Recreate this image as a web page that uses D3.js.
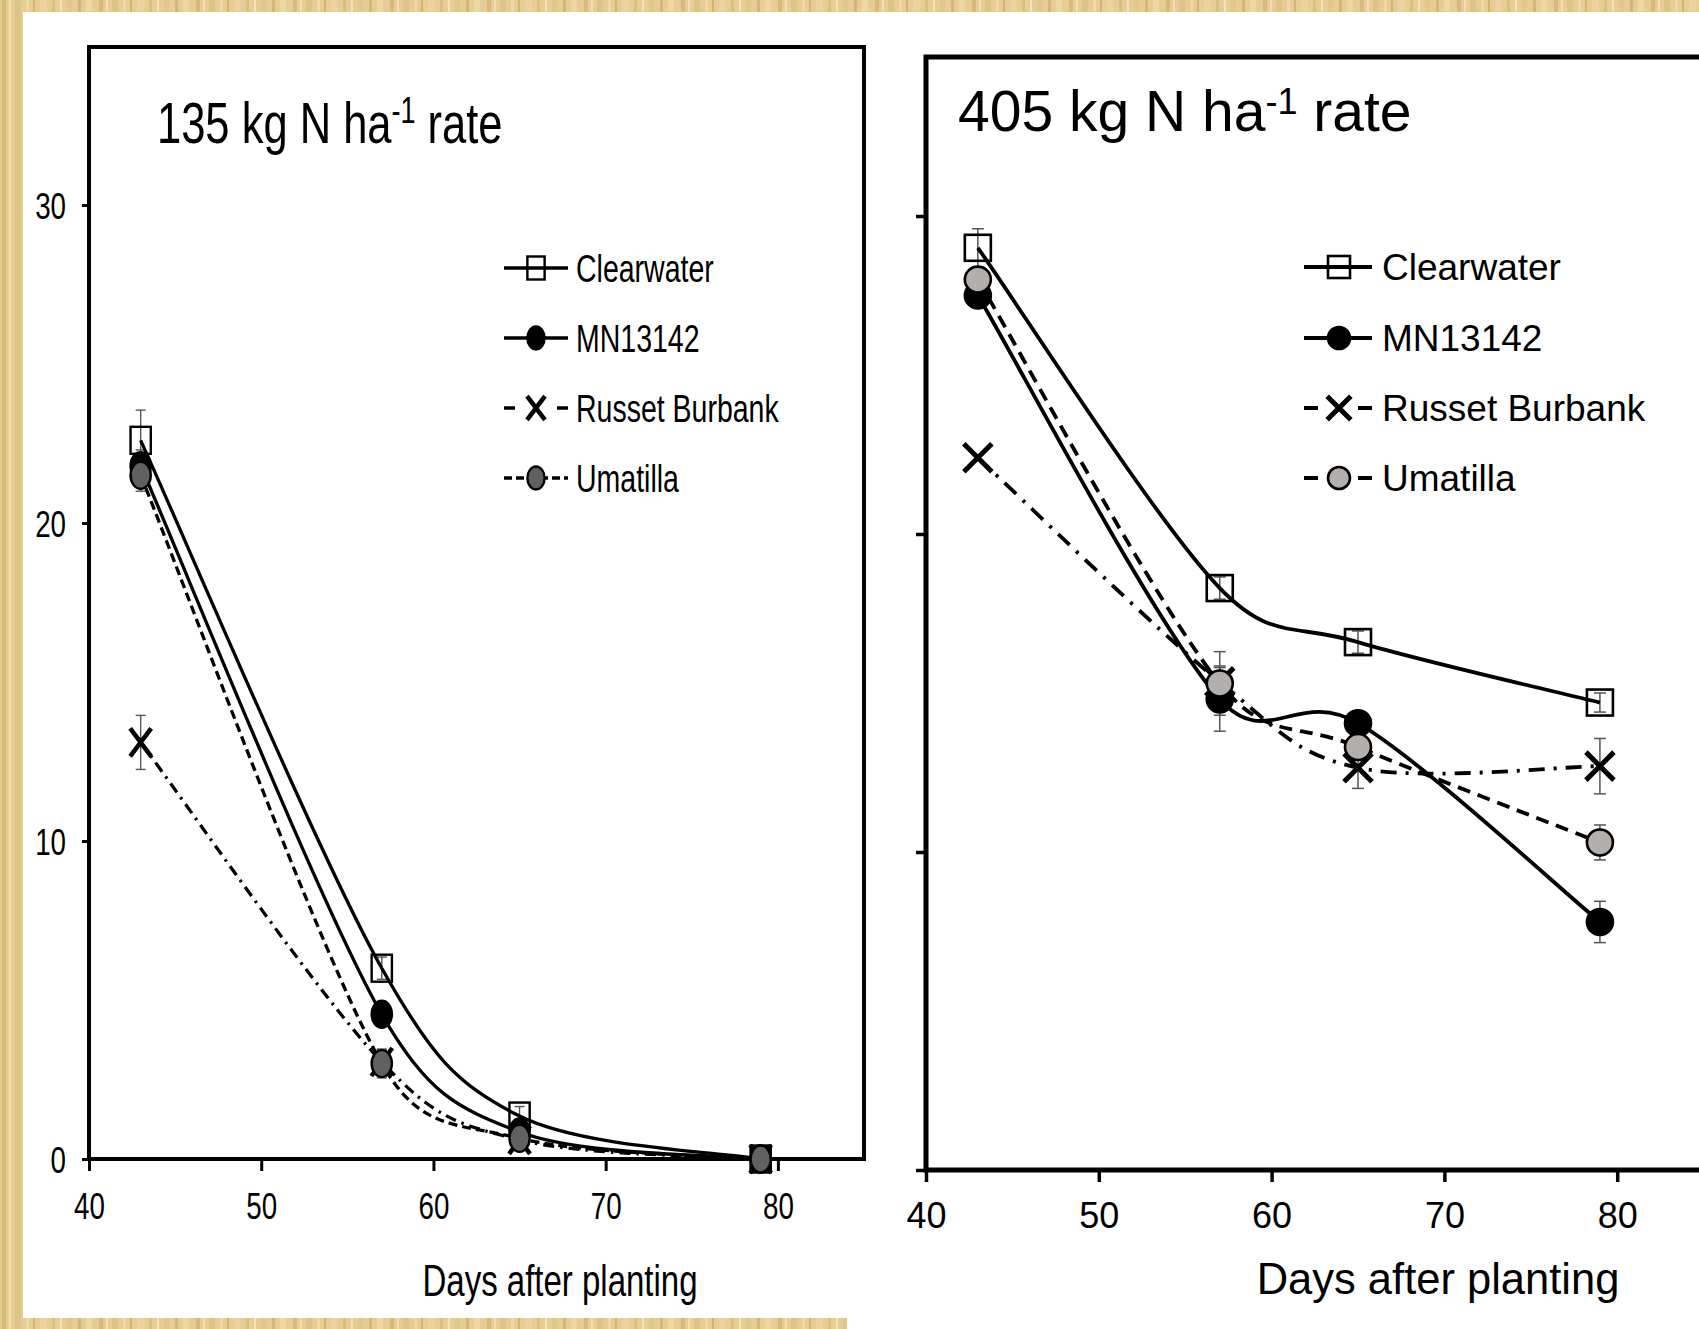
<!DOCTYPE html>
<html><head><meta charset="utf-8">
<script src="https://cdn.jsdelivr.net/npm/d3@7"></script>
<style>
body{margin:0;background:#fff;}
svg{display:block;}
text{font-family:"Liberation Sans",Arial,sans-serif;fill:#000;}
</style>
</head><body>
<svg id="c" width="1699" height="1329"></svg>
<script>
// ---------------- DATA ----------------
const days = [43, 57, 65, 79];
const seriesNames = ["Clearwater", "MN13142", "Russet Burbank", "Umatilla"];
const xTicks = [40, 50, 60, 70, 80];
const yTicks = [0, 10, 20, 30];
const xAxisTitle = "Days after planting";
const titleLow = ["135 kg N ha", "-1", " rate"];
const titleHigh = ["405 kg N ha", "-1", " rate"];

// 135 kg N/ha panel
const lowClearwater = [22.6, 6.0, 1.35, 0];
const lowMN13142 = [21.8, 4.55, 0.85, 0];
const lowRusset = [13.1, 3.05, 0.6, 0];
const lowUmatilla = [21.5, 3.0, 0.65, 0];
const lowClearwaterErr = [0.95, 0.35, 0.3, 0.1];
const lowMN13142Err = [0.5, 0.3, 0.2, 0.1];
const lowRussetErr = [0.85, 0.4, 0.2, 0.1];
const lowUmatillaErr = [0.5, 0.45, 0.25, 0.1];

// 405 kg N/ha panel
const highClearwater = [29.0, 18.3, 16.6, 14.7];
const highMN13142 = [27.5, 14.8, 14.05, 7.8];
const highRusset = [22.4, 15.35, 12.65, 12.7];
const highUmatilla = [28.0, 15.3, 13.3, 10.3];
const highClearwaterErr = [0.6, 0.35, 0.35, 0.3];
const highMN13142Err = [0.3, 1.0, 0.3, 0.65];
const highRussetErr = [0, 0.5, 0.65, 0.87];
const highUmatillaErr = [0.3, 1.0, 0.3, 0.55];

// ---------------- SETUP ----------------
const svg = d3.select("#c");
const defs = svg.append("defs");
const pat = defs.append("pattern").attr("id", "bg").attr("patternUnits", "userSpaceOnUse")
  .attr("width", 97).attr("height", 60);
pat.append("rect").attr("width", 97).attr("height", 60).attr("fill", "#e6cd94");
const stripes = [[2,4,"#d5b774"],[9,2,"#f3e4b8"],[15,6,"#dcc082"],[26,3,"#f0dcaa"],[33,2,"#cdac69"],
  [40,7,"#ebd5a2"],[52,3,"#d8bb7a"],[60,2,"#f5e8c0"],[67,5,"#dec588"],[78,3,"#cfb071"],[86,6,"#efdaa6"]];
stripes.forEach(s => pat.append("rect").attr("x", s[0]).attr("width", s[1]).attr("height", 60).attr("fill", s[2]).attr("opacity", 0.8));

svg.append("rect").attr("width", 1699).attr("height", 1329).attr("fill", "url(#bg)");
svg.append("rect").attr("x", 23).attr("y", 12).attr("width", 1676).attr("height", 1317).attr("fill", "#fff");
svg.append("rect").attr("x", 0).attr("y", 1318).attr("width", 847).attr("height", 11).attr("fill", "url(#bg)");

// Spreadsheet-style smoothed line (Catmull-Rom handles, limited to half the segment length)
function curveSmooth(context) {
  let pts;
  return {
    areaStart() {}, areaEnd() {},
    lineStart() { pts = []; },
    point(x, y) { pts.push([+x, +y]); },
    lineEnd() {
      const n = pts.length;
      if (!n) return;
      context.moveTo(pts[0][0], pts[0][1]);
      const dist = (a, b) => Math.hypot(a[0] - b[0], a[1] - b[1]);
      for (let i = 0; i < n - 1; i++) {
        const p0 = pts[Math.max(i - 1, 0)], p1 = pts[i], p2 = pts[i + 1], p3 = pts[Math.min(i + 2, n - 1)];
        const d12 = dist(p1, p2), d02 = dist(p0, p2), d13 = dist(p1, p3);
        let f1 = 1 / 6, f2 = 1 / 6;
        if (d02 > 0 && d02 * f1 > d12 / 2) f1 = d12 / 2 / d02;
        if (d13 > 0 && d13 * f2 > d12 / 2) f2 = d12 / 2 / d13;
        context.bezierCurveTo(
          p1[0] + (p2[0] - p0[0]) * f1, p1[1] + (p2[1] - p0[1]) * f1,
          p2[0] - (p3[0] - p1[0]) * f2, p2[1] - (p3[1] - p1[1]) * f2,
          p2[0], p2[1]);
      }
    }
  };
}

function buildSeries(vals, errs) {
  return seriesNames.map((name, i) => ({
    name,
    pts: days.map((d, j) => ({ day: d, v: vals[i][j], e: errs[i][j] }))
  }));
}

const styles = {
  "Clearwater": { marker: "square", dash: null },
  "MN13142": { marker: "circle", fill: "#000", dash: null },
  "Russet Burbank": { marker: "x", dash: "dashdot" },
  "Umatilla": { marker: "circle", fill: null, dash: "dash" }
};

const panels = [
  {
    series: buildSeries([lowClearwater, lowMN13142, lowRusset, lowUmatilla],
                        [lowClearwaterErr, lowMN13142Err, lowRussetErr, lowUmatillaErr]),
    x: d3.scaleLinear([40, 85], [89, 864]),
    y: d3.scaleLinear([0, 35], [1159, 46]),
    sx: 0.75, boxW: 4, lineW: 3.3, tickW: 3,
    ms: 27, xs: 28, xStroke: 4.5, mStroke: 2.4,
    umaFill: "#616161", dash: "9 5", dashdot: "11 6 2.5 6",
    errW: 1.4, capW: 10,
    title: titleLow, titleX: 157, titleY: 143, titleFs: 58, supFs: 36, supRaise: 20,
    yTickSize: 7, yLabelRight: 66, yLabelFs: 37, showYLabels: true,
    xTickSize: 12, xLabelY: 1219, xLabelFs: 37,
    axisTitleX: 560, axisTitleY: 1296, axisTitleFs: 44,
    legX0: 504, legX1: 568, legMX: 536, legTX: 576, legRows: [268, 338, 408, 478], legFs: 38, legMs: 23,
    legDash: { "Russet Burbank": "11 42", "Umatilla": "8 4" },
    box: [89, 47, 864, 1159]
  },
  {
    series: buildSeries([highClearwater, highMN13142, highRusset, highUmatilla],
                        [highClearwaterErr, highMN13142Err, highRussetErr, highUmatillaErr]),
    x: d3.scaleLinear([40, 85], [926, 1703.6]),
    y: d3.scaleLinear([0, 35], [1170, 57]),
    sx: 1, boxW: 5, lineW: 3.8, tickW: 3.5,
    ms: 26, xs: 28, xStroke: 5, mStroke: 2.6,
    umaFill: "#b2afad", dash: "13 8", dashdot: "16 9 3 9",
    errW: 1.5, capW: 12,
    title: titleHigh, titleX: 958, titleY: 131, titleFs: 57, supFs: 36, supRaise: 17,
    yTickSize: 10, showYLabels: false,
    xTickSize: 12, xLabelY: 1228, xLabelFs: 36,
    axisTitleX: 1438, axisTitleY: 1294, axisTitleFs: 43.5,
    legX0: 1304, legX1: 1372, legMX: 1339, legTX: 1382, legRows: [267, 338, 408, 478], legFs: 37, legMs: 22,
    legDash: { "Russet Burbank": "14 40", "Umatilla": "14 40" },
    box: [926, 57, 1710, 1170]
  }
];

function drawMarker(g, name, cx, cy, P, size) {
  const st = styles[name];
  const h = size, w = size * P.sx;
  if (st.marker === "square") {
    g.append("rect").attr("x", cx - w / 2).attr("y", cy - h / 2).attr("width", w).attr("height", h)
      .attr("fill", "none").attr("stroke", "#000").attr("stroke-width", P.mStroke);
  } else if (st.marker === "circle") {
    g.append("ellipse").attr("cx", cx).attr("cy", cy).attr("rx", w / 2).attr("ry", h / 2)
      .attr("fill", st.fill || P.umaFill).attr("stroke", "#000").attr("stroke-width", P.mStroke);
  } else {
    const xh = size * (P.xs / P.ms), xw = xh * P.sx;
    g.append("path")
      .attr("d", `M${cx - xw / 2},${cy - xh / 2}L${cx + xw / 2},${cy + xh / 2}M${cx - xw / 2},${cy + xh / 2}L${cx + xw / 2},${cy - xh / 2}`)
      .attr("stroke", "#000").attr("stroke-width", P.xStroke).attr("fill", "none");
  }
}

panels.forEach(P => {
  const g = svg.append("g");
  const { x, y } = P;

  // box
  g.append("rect").attr("x", P.box[0]).attr("y", P.box[1])
    .attr("width", P.box[2] - P.box[0]).attr("height", P.box[3] - P.box[1])
    .attr("fill", "none").attr("stroke", "#000").attr("stroke-width", P.boxW);

  // axes
  const ya = g.append("g").attr("transform", `translate(${x.range()[0]},0)`)
    .call(d3.axisLeft(y).tickValues(yTicks).tickSize(P.yTickSize).tickSizeOuter(0)
      .tickFormat(P.showYLabels ? d3.format("d") : () => ""));
  ya.select(".domain").remove();
  ya.selectAll("line").attr("stroke", "#000").attr("stroke-width", P.tickW);
  ya.selectAll("text").attr("x", (P.yLabelRight - x.range()[0]) / P.sx).attr("dy", "0.36em")
    .attr("transform", `scale(${P.sx},1)`).style("font-size", P.yLabelFs + "px")
    .attr("fill", "#000");

  const xa = g.append("g").attr("transform", `translate(0,${y.range()[0]})`)
    .call(d3.axisBottom(x).tickValues(xTicks).tickSize(P.xTickSize).tickSizeOuter(0));
  xa.select(".domain").remove();
  xa.selectAll("line").attr("stroke", "#000").attr("stroke-width", P.tickW);
  xa.selectAll("text").attr("y", P.xLabelY - y.range()[0]).attr("dy", "0")
    .attr("transform", `scale(${P.sx},1)`).style("font-size", P.xLabelFs + "px").attr("fill", "#000");

  // axis title
  g.append("text").attr("transform", `translate(${P.axisTitleX},${P.axisTitleY}) scale(${P.sx},1)`)
    .attr("text-anchor", "middle").style("font-size", P.axisTitleFs + "px").text(xAxisTitle);

  // panel title
  const t = g.append("text").attr("transform", `translate(${P.titleX},${P.titleY}) scale(${P.sx},1)`)
    .style("font-size", P.titleFs + "px");
  t.append("tspan").text(P.title[0]);
  t.append("tspan").attr("dy", -P.supRaise).style("font-size", P.supFs + "px").text(P.title[1]);
  t.append("tspan").attr("dy", P.supRaise).text(P.title[2]);

  // error bars
  const eg = g.append("g").attr("stroke", "#555").attr("stroke-width", P.errW);
  P.series.forEach(s => s.pts.forEach(p => {
    if (!(p.e > 0)) return;
    const cx = x(p.day), y0 = y(p.v - p.e), y1 = y(p.v + p.e), cw = P.capW / 2;
    eg.append("line").attr("x1", cx).attr("x2", cx).attr("y1", y0).attr("y2", y1);
    eg.append("line").attr("x1", cx - cw).attr("x2", cx + cw).attr("y1", y0).attr("y2", y0);
    eg.append("line").attr("x1", cx - cw).attr("x2", cx + cw).attr("y1", y1).attr("y2", y1);
  }));

  // lines
  const line = d3.line().x(d => x(d.day)).y(d => y(d.v)).curve(curveSmooth);
  P.series.forEach(s => {
    const st = styles[s.name];
    g.append("path").attr("d", line(s.pts)).attr("fill", "none").attr("stroke", "#000")
      .attr("stroke-width", P.lineW)
      .attr("stroke-dasharray", st.dash ? P[st.dash] : null);
  });

  // markers
  P.series.forEach(s => s.pts.forEach(p => drawMarker(g, s.name, x(p.day), y(p.v), P, P.ms)));

  // legend
  P.series.forEach((s, i) => {
    const ly = P.legRows[i];
    g.append("line").attr("x1", P.legX0).attr("x2", P.legX1).attr("y1", ly).attr("y2", ly)
      .attr("stroke", "#000").attr("stroke-width", P.lineW)
      .attr("stroke-dasharray", P.legDash[s.name] || null);
    drawMarker(g, s.name, P.legMX, ly, P, P.legMs);
    g.append("text").attr("transform", `translate(${P.legTX},${ly}) scale(${P.sx},1)`)
      .attr("dy", "0.36em").style("font-size", P.legFs + "px").text(s.name);
  });
});
</script>
</body></html>
